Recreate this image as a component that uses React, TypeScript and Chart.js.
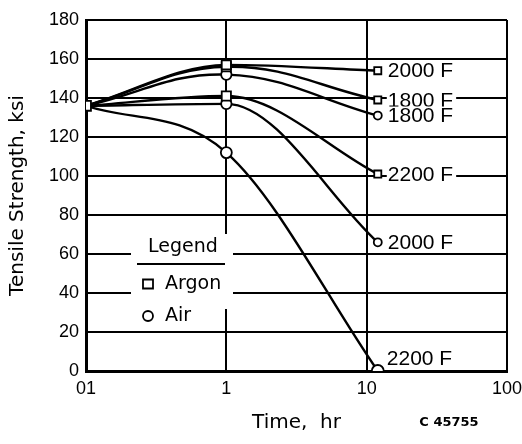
import React, { useEffect, useRef } from 'react';
import { Chart, registerables } from 'chart.js';

Chart.register(...registerables);

// ---- data ----
const times = [0.1, 1, 12];
const argon2000 = [136, 157, 154];
const argon1800 = [136, 156, 139];
const argon2200 = [136, 141, 101];
const air1800 = [136, 152, 131];
const air2000 = [136, 137, 66];
const air2200 = [136, 112, 0];
const seriesValues = [argon2000, argon1800, argon2200, air1800, air2000, air2200];
const seriesNames = ['2000 F', '1800 F', '2200 F', '1800 F', '2000 F', '2200 F'];
const seriesGas = ['Argon', 'Argon', 'Argon', 'Air', 'Air', 'Air'];
const xTicks = [0.1, 1, 10, 100];
const xTickLabels = ['01', '1', '10', '100'];
const yMax = 180;
const yStep = 20;
const legendTitle = 'Legend';
const legendItems = ['Argon', 'Air'];
const xTitle = 'Time,  hr';
const yTitle = 'Tensile Strength, ksi';
const figureId = 'C 45755';

const FONT = '"DejaVu Sans", "Liberation Sans", sans-serif';
const NFONT = '"Liberation Sans", Arial, sans-serif';

const overlayPlugin = {
  id: 'overlay',
  beforeDatasetsDraw(chart: any) {
    const { ctx, chartArea } = chart;
    const xs = chart.scales.x;
    const ys = chart.scales.y;
    ctx.save();
    // legend box (white, covers grid)
    const bx = chartArea.left + 45;
    const by = chartArea.top + 214;
    const bw = 102;
    const bh = 75;
    ctx.fillStyle = '#fff';
    ctx.fillRect(bx, by, bw, bh);
    ctx.fillStyle = '#000';
    ctx.font = `19px ${FONT}`;
    ctx.textBaseline = 'middle';
    ctx.textAlign = 'center';
    ctx.fillText(legendTitle, bx + 52, by + 13);
    ctx.strokeStyle = '#000';
    ctx.lineWidth = 2;
    ctx.beginPath();
    ctx.moveTo(bx + 6, by + 30);
    ctx.lineTo(bx + 94, by + 30);
    ctx.stroke();
    ctx.textAlign = 'left';
    legendItems.forEach((name, i) => {
      const cy = by + 50 + i * 32;
      const cx = bx + 17;
      ctx.lineWidth = 1.8;
      ctx.fillStyle = '#fff';
      ctx.beginPath();
      if (name === 'Argon') {
        ctx.rect(cx - 5, cy - 4.5, 10, 9);
      } else {
        ctx.arc(cx, cy, 5, 0, Math.PI * 2);
      }
      ctx.fill();
      ctx.stroke();
      ctx.fillStyle = '#000';
      ctx.fillText(name, bx + 34, cy);
    });
    // end labels with white background
    ctx.font = `21px ${NFONT}`;
    seriesValues.forEach((vals, i) => {
      const n = vals.length - 1;
      const px = xs.getPixelForValue(times[n]);
      const py = ys.getPixelForValue(vals[n]);
      const isBottom = vals[n] === 0;
      const tx = px + (isBottom ? 9 : 10);
      const ty = py - (isBottom ? 13 : 0);
      const w = ctx.measureText(seriesNames[i]).width;
      ctx.fillStyle = '#fff';
      ctx.fillRect(tx - 1, ty - 9, w + 4, 18);
      ctx.fillStyle = '#000';
      ctx.fillText(seriesNames[i], tx, ty + 1);
    });
    ctx.restore();
  },
  afterDraw(chart: any) {
    const { ctx } = chart;
    ctx.save();
    ctx.fillStyle = '#000';
    ctx.font = `bold 13px ${FONT}`;
    ctx.textAlign = 'center';
    ctx.textBaseline = 'middle';
    ctx.fillText(figureId, 449, 423);
    ctx.restore();
  },
};

export default function App() {
  const ref = useRef<HTMLCanvasElement | null>(null);
  useEffect(() => {
    if (!ref.current) return;
    const datasets = seriesValues.map((vals, i) => {
      const isArgon = seriesGas[i] === 'Argon';
      let radii = isArgon ? [0, 6.5, 5] : [0, 5.2, 4];
      if (i === 0) radii = [7, 6.5, 5];
      if (i === 5) radii = [0, 5.5, 6];
      // curves that keep falling after 1 hr use a smooth bezier, others use monotone
      const bezier = i === 1 || i === 3;
      return {
        label: `${seriesGas[i]} ${seriesNames[i]}`,
        data: vals.map((v, k) => ({ x: times[k], y: v })),
        borderColor: '#000',
        borderWidth: 2.4,
        tension: 0.4,
        cubicInterpolationMode: bezier ? 'default' : 'monotone',
        pointStyle: isArgon ? 'rect' : 'circle',
        pointRadius: radii,
        pointBackgroundColor: '#fff',
        pointBorderColor: '#000',
        pointBorderWidth: 1.8,
        fill: false,
      };
    });
    const chart = new Chart(ref.current, {
      type: 'line',
      data: { datasets },
      plugins: [overlayPlugin],
      options: {
        animation: false,
        responsive: false,
        maintainAspectRatio: false,
        layout: { padding: { left: 0, top: 20, right: 15, bottom: 0 } },
        plugins: { legend: { display: false }, tooltip: { enabled: false } },
        scales: {
          x: {
            type: 'logarithmic',
            min: xTicks[0],
            max: xTicks[xTicks.length - 1],
            afterBuildTicks: (s: any) => {
              s.ticks = xTicks.map((v) => ({ value: v }));
            },
            afterFit: (s: any) => {
              s.height = 73;
              s.paddingLeft = 0;
              s.paddingRight = 0;
            },
            ticks: {
              autoSkip: false,
              maxRotation: 0,
              padding: 7,
              color: '#000',
              font: { family: NFONT, size: 18 },
              callback: (_v: any, idx: number) => xTickLabels[idx],
            },
            grid: { color: '#000', lineWidth: 2, drawTicks: false },
            border: { color: '#000', width: 3 },
            title: {
              display: true,
              text: xTitle,
              color: '#000',
              font: { family: FONT, size: 20 },
              padding: { top: 0, bottom: 9 },
            },
          },
          y: {
            min: 0,
            max: yMax,
            afterFit: (s: any) => {
              s.width = 86;
              s.paddingTop = 0;
              s.paddingBottom = 0;
            },
            ticks: {
              stepSize: yStep,
              padding: 7,
              color: '#000',
              font: { family: NFONT, size: 18 },
            },
            grid: { color: '#000', lineWidth: 2, drawTicks: false },
            border: { color: '#000', width: 3 },
            title: {
              display: true,
              text: yTitle,
              color: '#000',
              font: { family: FONT, size: 20 },
              padding: { top: 6, bottom: 0 },
            },
          },
        },
      },
    } as any);
    return () => chart.destroy();
  }, []);
  return (
    <div style={{ position: 'absolute', left: 0, top: 0, width: 522, height: 444, background: '#fff' }}>
      <canvas ref={ref} width={522} height={444} />
    </div>
  );
}
